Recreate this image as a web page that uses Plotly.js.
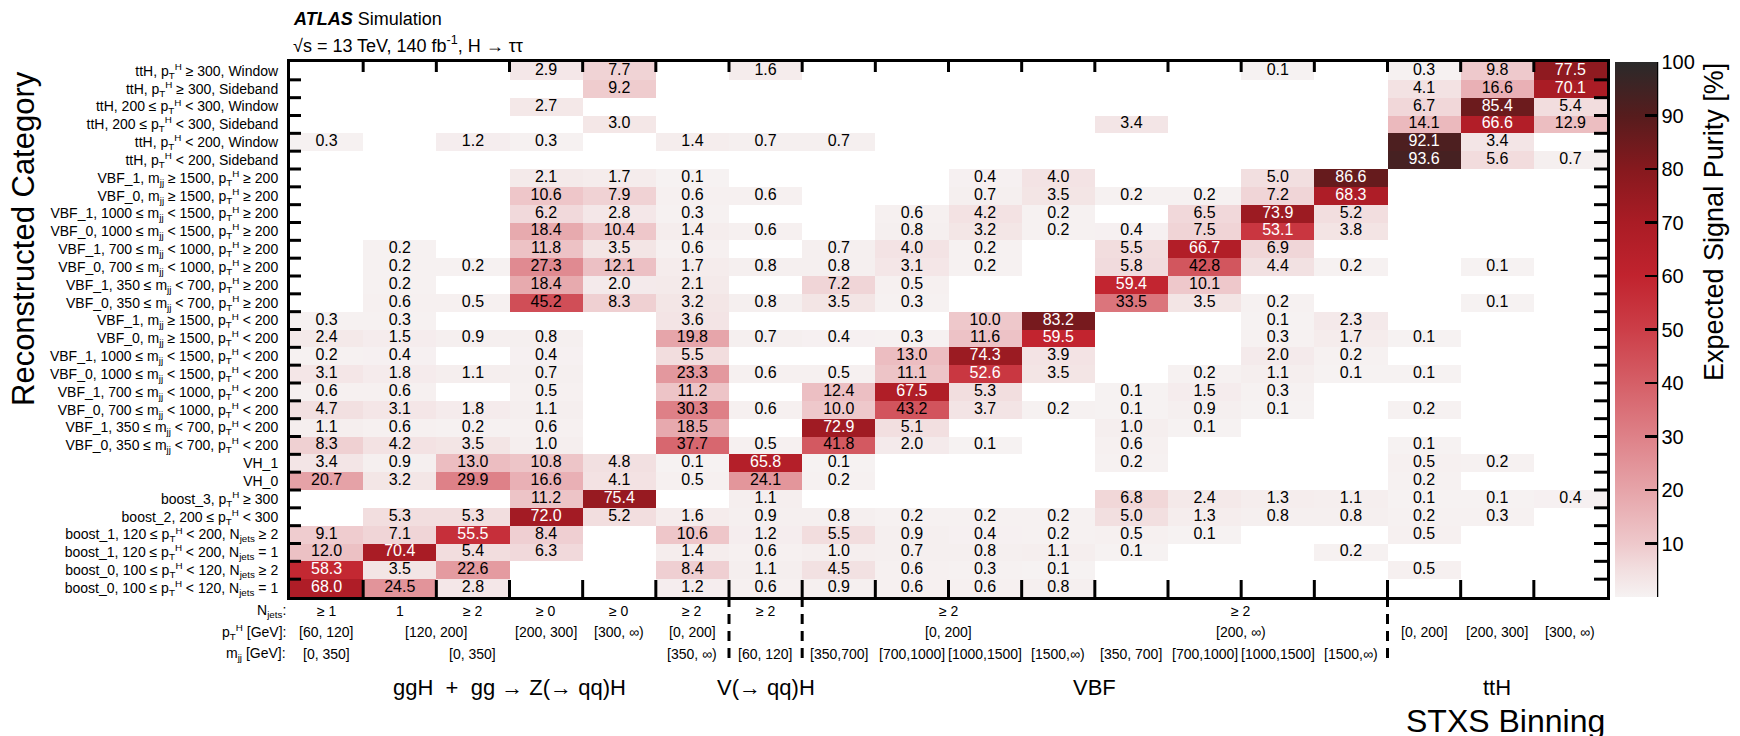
<!DOCTYPE html>
<html>
<head>
<meta charset="utf-8">
<script src="https://cdn.plot.ly/plotly-3.0.1.min.js"></script>
<style>html,body{margin:0;padding:0;background:#fff;}#chart{width:1740px;height:736px;}</style>
</head>
<body>
<div id="chart"></div>
<script>
// ---------------- DATA ----------------
// Reconstructed categories (rows, top to bottom)
const rowLabels = [
  'ttH, p<sub>T</sub><sup>H</sup> ≥ 300, Window',
  'ttH, p<sub>T</sub><sup>H</sup> ≥ 300, Sideband',
  'ttH, 200 ≤ p<sub>T</sub><sup>H</sup> < 300, Window',
  'ttH, 200 ≤ p<sub>T</sub><sup>H</sup> < 300, Sideband',
  'ttH, p<sub>T</sub><sup>H</sup> < 200, Window',
  'ttH, p<sub>T</sub><sup>H</sup> < 200, Sideband',
  'VBF_1, m<sub>jj</sub> ≥ 1500, p<sub>T</sub><sup>H</sup> ≥ 200',
  'VBF_0, m<sub>jj</sub> ≥ 1500, p<sub>T</sub><sup>H</sup> ≥ 200',
  'VBF_1, 1000 ≤ m<sub>jj</sub> < 1500, p<sub>T</sub><sup>H</sup> ≥ 200',
  'VBF_0, 1000 ≤ m<sub>jj</sub> < 1500, p<sub>T</sub><sup>H</sup> ≥ 200',
  'VBF_1, 700 ≤ m<sub>jj</sub> < 1000, p<sub>T</sub><sup>H</sup> ≥ 200',
  'VBF_0, 700 ≤ m<sub>jj</sub> < 1000, p<sub>T</sub><sup>H</sup> ≥ 200',
  'VBF_1, 350 ≤ m<sub>jj</sub> < 700, p<sub>T</sub><sup>H</sup> ≥ 200',
  'VBF_0, 350 ≤ m<sub>jj</sub> < 700, p<sub>T</sub><sup>H</sup> ≥ 200',
  'VBF_1, m<sub>jj</sub> ≥ 1500, p<sub>T</sub><sup>H</sup> < 200',
  'VBF_0, m<sub>jj</sub> ≥ 1500, p<sub>T</sub><sup>H</sup> < 200',
  'VBF_1, 1000 ≤ m<sub>jj</sub> < 1500, p<sub>T</sub><sup>H</sup> < 200',
  'VBF_0, 1000 ≤ m<sub>jj</sub> < 1500, p<sub>T</sub><sup>H</sup> < 200',
  'VBF_1, 700 ≤ m<sub>jj</sub> < 1000, p<sub>T</sub><sup>H</sup> < 200',
  'VBF_0, 700 ≤ m<sub>jj</sub> < 1000, p<sub>T</sub><sup>H</sup> < 200',
  'VBF_1, 350 ≤ m<sub>jj</sub> < 700, p<sub>T</sub><sup>H</sup> < 200',
  'VBF_0, 350 ≤ m<sub>jj</sub> < 700, p<sub>T</sub><sup>H</sup> < 200',
  'VH_1',
  'VH_0',
  'boost_3, p<sub>T</sub><sup>H</sup> ≥ 300',
  'boost_2, 200 ≤ p<sub>T</sub><sup>H</sup> < 300',
  'boost_1, 120 ≤ p<sub>T</sub><sup>H</sup> < 200, N<sub>jets</sub> ≥ 2',
  'boost_1, 120 ≤ p<sub>T</sub><sup>H</sup> < 200, N<sub>jets</sub> = 1',
  'boost_0, 100 ≤ p<sub>T</sub><sup>H</sup> < 120, N<sub>jets</sub> ≥ 2',
  'boost_0, 100 ≤ p<sub>T</sub><sup>H</sup> < 120, N<sub>jets</sub> = 1'
];

const n = null;
// Expected signal purity [%], one array per reconstructed category (18 STXS bins each)
const ttH_pt300_window      = [n,n,n,2.9,7.7,n,1.6,n,n,n,n,n,n,0.1,n,0.3,9.8,77.5];
const ttH_pt300_sideband    = [n,n,n,n,9.2,n,n,n,n,n,n,n,n,n,n,4.1,16.6,70.1];
const ttH_pt200_window      = [n,n,n,2.7,n,n,n,n,n,n,n,n,n,n,n,6.7,85.4,5.4];
const ttH_pt200_sideband    = [n,n,n,n,3.0,n,n,n,n,n,n,3.4,n,n,n,14.1,66.6,12.9];
const ttH_pt0_window        = [0.3,n,1.2,0.3,n,1.4,0.7,0.7,n,n,n,n,n,n,n,92.1,3.4,n];
const ttH_pt0_sideband      = [n,n,n,n,n,n,n,n,n,n,n,n,n,n,n,93.6,5.6,0.7];
const vbf1_m1500_hi         = [n,n,n,2.1,1.7,0.1,n,n,n,0.4,4.0,n,n,5.0,86.6,n,n,n];
const vbf0_m1500_hi         = [n,n,n,10.6,7.9,0.6,0.6,n,n,0.7,3.5,0.2,0.2,7.2,68.3,n,n,n];
const vbf1_m1000_hi         = [n,n,n,6.2,2.8,0.3,n,n,0.6,4.2,0.2,n,6.5,73.9,5.2,n,n,n];
const vbf0_m1000_hi         = [n,n,n,18.4,10.4,1.4,0.6,n,0.8,3.2,0.2,0.4,7.5,53.1,3.8,n,n,n];
const vbf1_m700_hi          = [n,0.2,n,11.8,3.5,0.6,n,0.7,4.0,0.2,n,5.5,66.7,6.9,n,n,n,n];
const vbf0_m700_hi          = [n,0.2,0.2,27.3,12.1,1.7,0.8,0.8,3.1,0.2,n,5.8,42.8,4.4,0.2,n,0.1,n];
const vbf1_m350_hi          = [n,0.2,n,18.4,2.0,2.1,n,7.2,0.5,n,n,59.4,10.1,n,n,n,n,n];
const vbf0_m350_hi          = [n,0.6,0.5,45.2,8.3,3.2,0.8,3.5,0.3,n,n,33.5,3.5,0.2,n,n,0.1,n];
const vbf1_m1500_lo         = [0.3,0.3,n,n,n,3.6,n,n,n,10.0,83.2,n,n,0.1,2.3,n,n,n];
const vbf0_m1500_lo         = [2.4,1.5,0.9,0.8,n,19.8,0.7,0.4,0.3,11.6,59.5,n,n,0.3,1.7,0.1,n,n];
const vbf1_m1000_lo         = [0.2,0.4,n,0.4,n,5.5,n,n,13.0,74.3,3.9,n,n,2.0,0.2,n,n,n];
const vbf0_m1000_lo         = [3.1,1.8,1.1,0.7,n,23.3,0.6,0.5,11.1,52.6,3.5,n,0.2,1.1,0.1,0.1,n,n];
const vbf1_m700_lo          = [0.6,0.6,n,0.5,n,11.2,n,12.4,67.5,5.3,n,0.1,1.5,0.3,n,n,n,n];
const vbf0_m700_lo          = [4.7,3.1,1.8,1.1,n,30.3,0.6,10.0,43.2,3.7,0.2,0.1,0.9,0.1,n,0.2,n,n];
const vbf1_m350_lo          = [1.1,0.6,0.2,0.6,n,18.5,n,72.9,5.1,n,n,1.0,0.1,n,n,n,n,n];
const vbf0_m350_lo          = [8.3,4.2,3.5,1.0,n,37.7,0.5,41.8,2.0,0.1,n,0.6,n,n,n,0.1,n,n];
const vh1                   = [3.4,0.9,13.0,10.8,4.8,0.1,65.8,0.1,n,n,n,0.2,n,n,n,0.5,0.2,n];
const vh0                   = [20.7,3.2,29.9,16.6,4.1,0.5,24.1,0.2,n,n,n,n,n,n,n,0.2,n,n];
const boost3                = [n,n,n,11.2,75.4,n,1.1,n,n,n,n,6.8,2.4,1.3,1.1,0.1,0.1,0.4];
const boost2                = [n,5.3,5.3,72.0,5.2,1.6,0.9,0.8,0.2,0.2,0.2,5.0,1.3,0.8,0.8,0.2,0.3,n];
const boost1_nj2            = [9.1,7.1,55.5,8.4,n,10.6,1.2,5.5,0.9,0.4,0.2,0.5,0.1,n,n,0.5,n,n];
const boost1_nj1            = [12.0,70.4,5.4,6.3,n,1.4,0.6,1.0,0.7,0.8,1.1,0.1,n,n,0.2,n,n,n];
const boost0_nj2            = [58.3,3.5,22.6,n,n,8.4,1.1,4.5,0.6,0.3,0.1,n,n,n,n,0.5,n,n];
const boost0_nj1            = [68.0,24.5,2.8,n,n,1.2,0.6,0.9,0.6,0.6,0.8,n,n,n,n,n,n,n];

const purity = [
  ttH_pt300_window, ttH_pt300_sideband, ttH_pt200_window, ttH_pt200_sideband,
  ttH_pt0_window, ttH_pt0_sideband,
  vbf1_m1500_hi, vbf0_m1500_hi, vbf1_m1000_hi, vbf0_m1000_hi,
  vbf1_m700_hi, vbf0_m700_hi, vbf1_m350_hi, vbf0_m350_hi,
  vbf1_m1500_lo, vbf0_m1500_lo, vbf1_m1000_lo, vbf0_m1000_lo,
  vbf1_m700_lo, vbf0_m700_lo, vbf1_m350_lo, vbf0_m350_lo,
  vh1, vh0, boost3, boost2, boost1_nj2, boost1_nj1, boost0_nj2, boost0_nj1
];

// STXS bin descriptions: [label, first bin, last bin]
const njetsLabels = [['≥ 1',0,0],['1',1,1],['≥ 2',2,2],['≥ 0',3,3],['≥ 0',4,4],['≥ 2',5,5],['≥ 2',6,6],['≥ 2',7,10],['≥ 2',11,14]];
const ptLabels = [['[60, 120]',0,0],['[120, 200]',1,2],['[200, 300]',3,3],['[300, ∞)',4,4],['[0, 200]',5,5],
                  ['[0, 200]',7,10],['[200, ∞)',11,14],['[0, 200]',15,15],['[200, 300]',16,16],['[300, ∞)',17,17]];
const mjjLabels = [['[0, 350]',0,0],['[0, 350]',2,2],['[350, ∞)',5,5],['[60, 120]',6,6],
                   ['[350,700]',7,7],['[700,1000]',8,8],['[1000,1500]',9,9],['[1500,∞)',10,10],
                   ['[350, 700]',11,11],['[700,1000]',12,12],['[1000,1500]',13,13],['[1500,∞)',14,14]];
const processGroups = [['ggH  +  gg → Z(→ qq)H',0,5],['V(→ qq)H',6,6],['VBF',7,14],['ttH',15,17]];
const nBins = 18;

// ---------------- LAYOUT GEOMETRY ----------------
const W = 1740, H = 736;
const PL = 290, PR = 1607, PT = 62, PB = 597;
const PW = PR - PL, PH = PB - PT;
const px2x = p => (p - PL) / PW;
const py2y = p => (PB - p) / PH;

const nRows = purity.length;
const colIdx = Array.from({length: nBins}, (_, i) => i);
const rowIdx = Array.from({length: nRows}, (_, i) => i);
const colBounds = colIdx.slice(1).map(i => i - 0.5);
const rowBounds = rowIdx.slice(1).map(i => i - 0.5);

// text labels
const tx = [], ty = [], tt = [], tc = [];
purity.forEach((row, r) => row.forEach((v, c) => {
  if (v !== null) { tx.push(c); ty.push(r); tt.push(v.toFixed(1)); tc.push(v >= 50 ? '#ffffff' : '#000000'); }
}));

const colorscale = [
  [0.00, '#f6f2f2'], [0.05, '#f2dfe0'], [0.10, '#eec8cb'], [0.20, '#e6a4a9'],
  [0.30, '#de8188'], [0.40, '#d55f67'], [0.50, '#cc3e48'], [0.60, '#c1232e'],
  [0.70, '#aa1c25'], [0.80, '#86191e'], [0.90, '#561c1d'], [1.00, '#2a2a2a']
];

const cbLeft = 1615, cbThick = 42;

const heat = {
  type: 'heatmap', z: purity, x: colIdx, y: rowIdx,
  zmin: 0, zmax: 100, colorscale: colorscale, hoverongaps: false,
  colorbar: {
    x: px2x(cbLeft), xanchor: 'left', xpad: 0, y: 0.5, yanchor: 'middle', len: 1, ypad: 0,
    thickness: cbThick, outlinewidth: 0,
    tickmode: 'array', tickvals: [10,20,30,40,50,60,70,80,90,100],
    ticks: 'inside', ticklen: 12, tickwidth: 2.5, tickcolor: '#000',
    tickfont: {size: 20, color: '#000', family: 'Liberation Sans, Arial, sans-serif'}
  }
};
const labels = {
  type: 'scatter', mode: 'text', x: tx, y: ty, text: tt,
  textfont: {size: 16, color: tc, family: 'Liberation Sans, Arial, sans-serif'},
  hoverinfo: 'skip', showlegend: false, cliponaxis: false
};

const ann = [];
const FONT = 'Liberation Sans, Arial, sans-serif';
const center = g => (g[1] + g[2]) / 2;
function addRow(list, ypx, size) {
  list.forEach(g => ann.push({xref: 'x', yref: 'paper', x: center(g), y: py2y(ypx), text: g[0],
    showarrow: false, xanchor: 'center', yanchor: 'middle', font: {size: size, family: FONT, color: '#000'}}));
}
addRow(njetsLabels, 611, 14);
addRow(ptLabels, 632, 14);
addRow(mjjLabels, 654, 14);
addRow(processGroups, 687, 22);

const rowHead = [['N<sub>jets</sub>:', 611], ['p<sub>T</sub><sup>H</sup> [GeV]:', 632], ['m<sub>jj</sub> [GeV]:', 654]];
rowHead.forEach(h => ann.push({xref: 'paper', yref: 'paper', x: 0, y: py2y(h[1]), text: h[0], showarrow: false,
  xanchor: 'right', yanchor: 'middle', xshift: -2, font: {size: 14, family: FONT, color: '#000'}}));

ann.push({xref: 'paper', yref: 'paper', x: 1, y: py2y(721), text: 'STXS Binning', showarrow: false,
  xanchor: 'right', yanchor: 'middle', font: {size: 32, family: FONT, color: '#000'}});
ann.push({xref: 'paper', yref: 'paper', x: px2x(24), y: py2y(239), text: 'Reconstructed Category', textangle: -90,
  showarrow: false, xanchor: 'center', yanchor: 'middle', font: {size: 31, family: FONT, color: '#000'}});
ann.push({xref: 'paper', yref: 'paper', x: px2x(1714), y: py2y(222), text: 'Expected Signal Purity [%]', textangle: -90,
  showarrow: false, xanchor: 'center', yanchor: 'middle', font: {size: 27, family: FONT, color: '#000'}});
ann.push({xref: 'paper', yref: 'paper', x: px2x(291), y: py2y(19), text: '<b><i>ATLAS</i></b> Simulation',
  showarrow: false, xanchor: 'left', yanchor: 'middle', font: {size: 18, family: FONT, color: '#000'}});
ann.push({xref: 'paper', yref: 'paper', x: px2x(291), y: py2y(44), text: '√s = 13 TeV, 140 fb<sup>-1</sup>, H → ττ',
  showarrow: false, xanchor: 'left', yanchor: 'middle', font: {size: 18, family: FONT, color: '#000'}});

const shapes = [];
const tickLine = {color: '#000', width: 3};
// column-boundary ticks (bottom long, top short) and row-boundary ticks (left, right)
colBounds.forEach(b => {
  shapes.push({type: 'line', xref: 'x', yref: 'paper', x0: b, x1: b, y0: 0, y1: 17 / PH, line: tickLine});
  shapes.push({type: 'line', xref: 'x', yref: 'paper', x0: b, x1: b, y0: 1, y1: 1 - 10 / PH, line: tickLine});
});
rowBounds.forEach(b => {
  shapes.push({type: 'line', xref: 'paper', yref: 'y', x0: 0, x1: 11 / PW, y0: b, y1: b, line: tickLine});
  shapes.push({type: 'line', xref: 'paper', yref: 'y', x0: 1, x1: 1 - 13 / PW, y0: b, y1: b, line: tickLine});
});
// dashed separators between production-mode groups
processGroups.slice(1).forEach(g => shapes.push({type: 'line', xref: 'x', yref: 'paper',
  x0: g[1] - 0.5, x1: g[1] - 0.5, y0: 0, y1: py2y(664), line: {color: '#000', width: 3, dash: '10px,7px'}}));
// colour bar axis line
shapes.push({type: 'line', xref: 'paper', yref: 'paper', x0: px2x(cbLeft + cbThick), x1: px2x(cbLeft + cbThick),
  y0: 0, y1: 1, line: {color: '#000', width: 2.5}});

const layout = {
  width: W, height: H,
  margin: {l: PL, r: W - PR, t: PT, b: H - PB, pad: 0},
  paper_bgcolor: '#fff', plot_bgcolor: '#fff',
  font: {family: FONT, color: '#000'},
  showlegend: false,
  xaxis: {
    range: [-0.5, nBins - 0.5], ticks: '', showticklabels: false, showline: true, linecolor: '#000',
    linewidth: 3, mirror: true, showgrid: false, zeroline: false
  },
  yaxis: {
    range: [nRows - 0.5, -0.5], tickmode: 'array', tickvals: rowIdx, ticktext: rowLabels,
    ticks: '', showline: true, linecolor: '#000', linewidth: 3, mirror: true, showgrid: false, zeroline: false,
    tickfont: {size: 14, family: FONT, color: '#000'}, ticklabelstandoff: 6
  },
  annotations: ann,
  shapes: shapes
};

Plotly.newPlot('chart', [heat, labels], layout, {displayModeBar: false, staticPlot: true});
</script>
</body>
</html>
